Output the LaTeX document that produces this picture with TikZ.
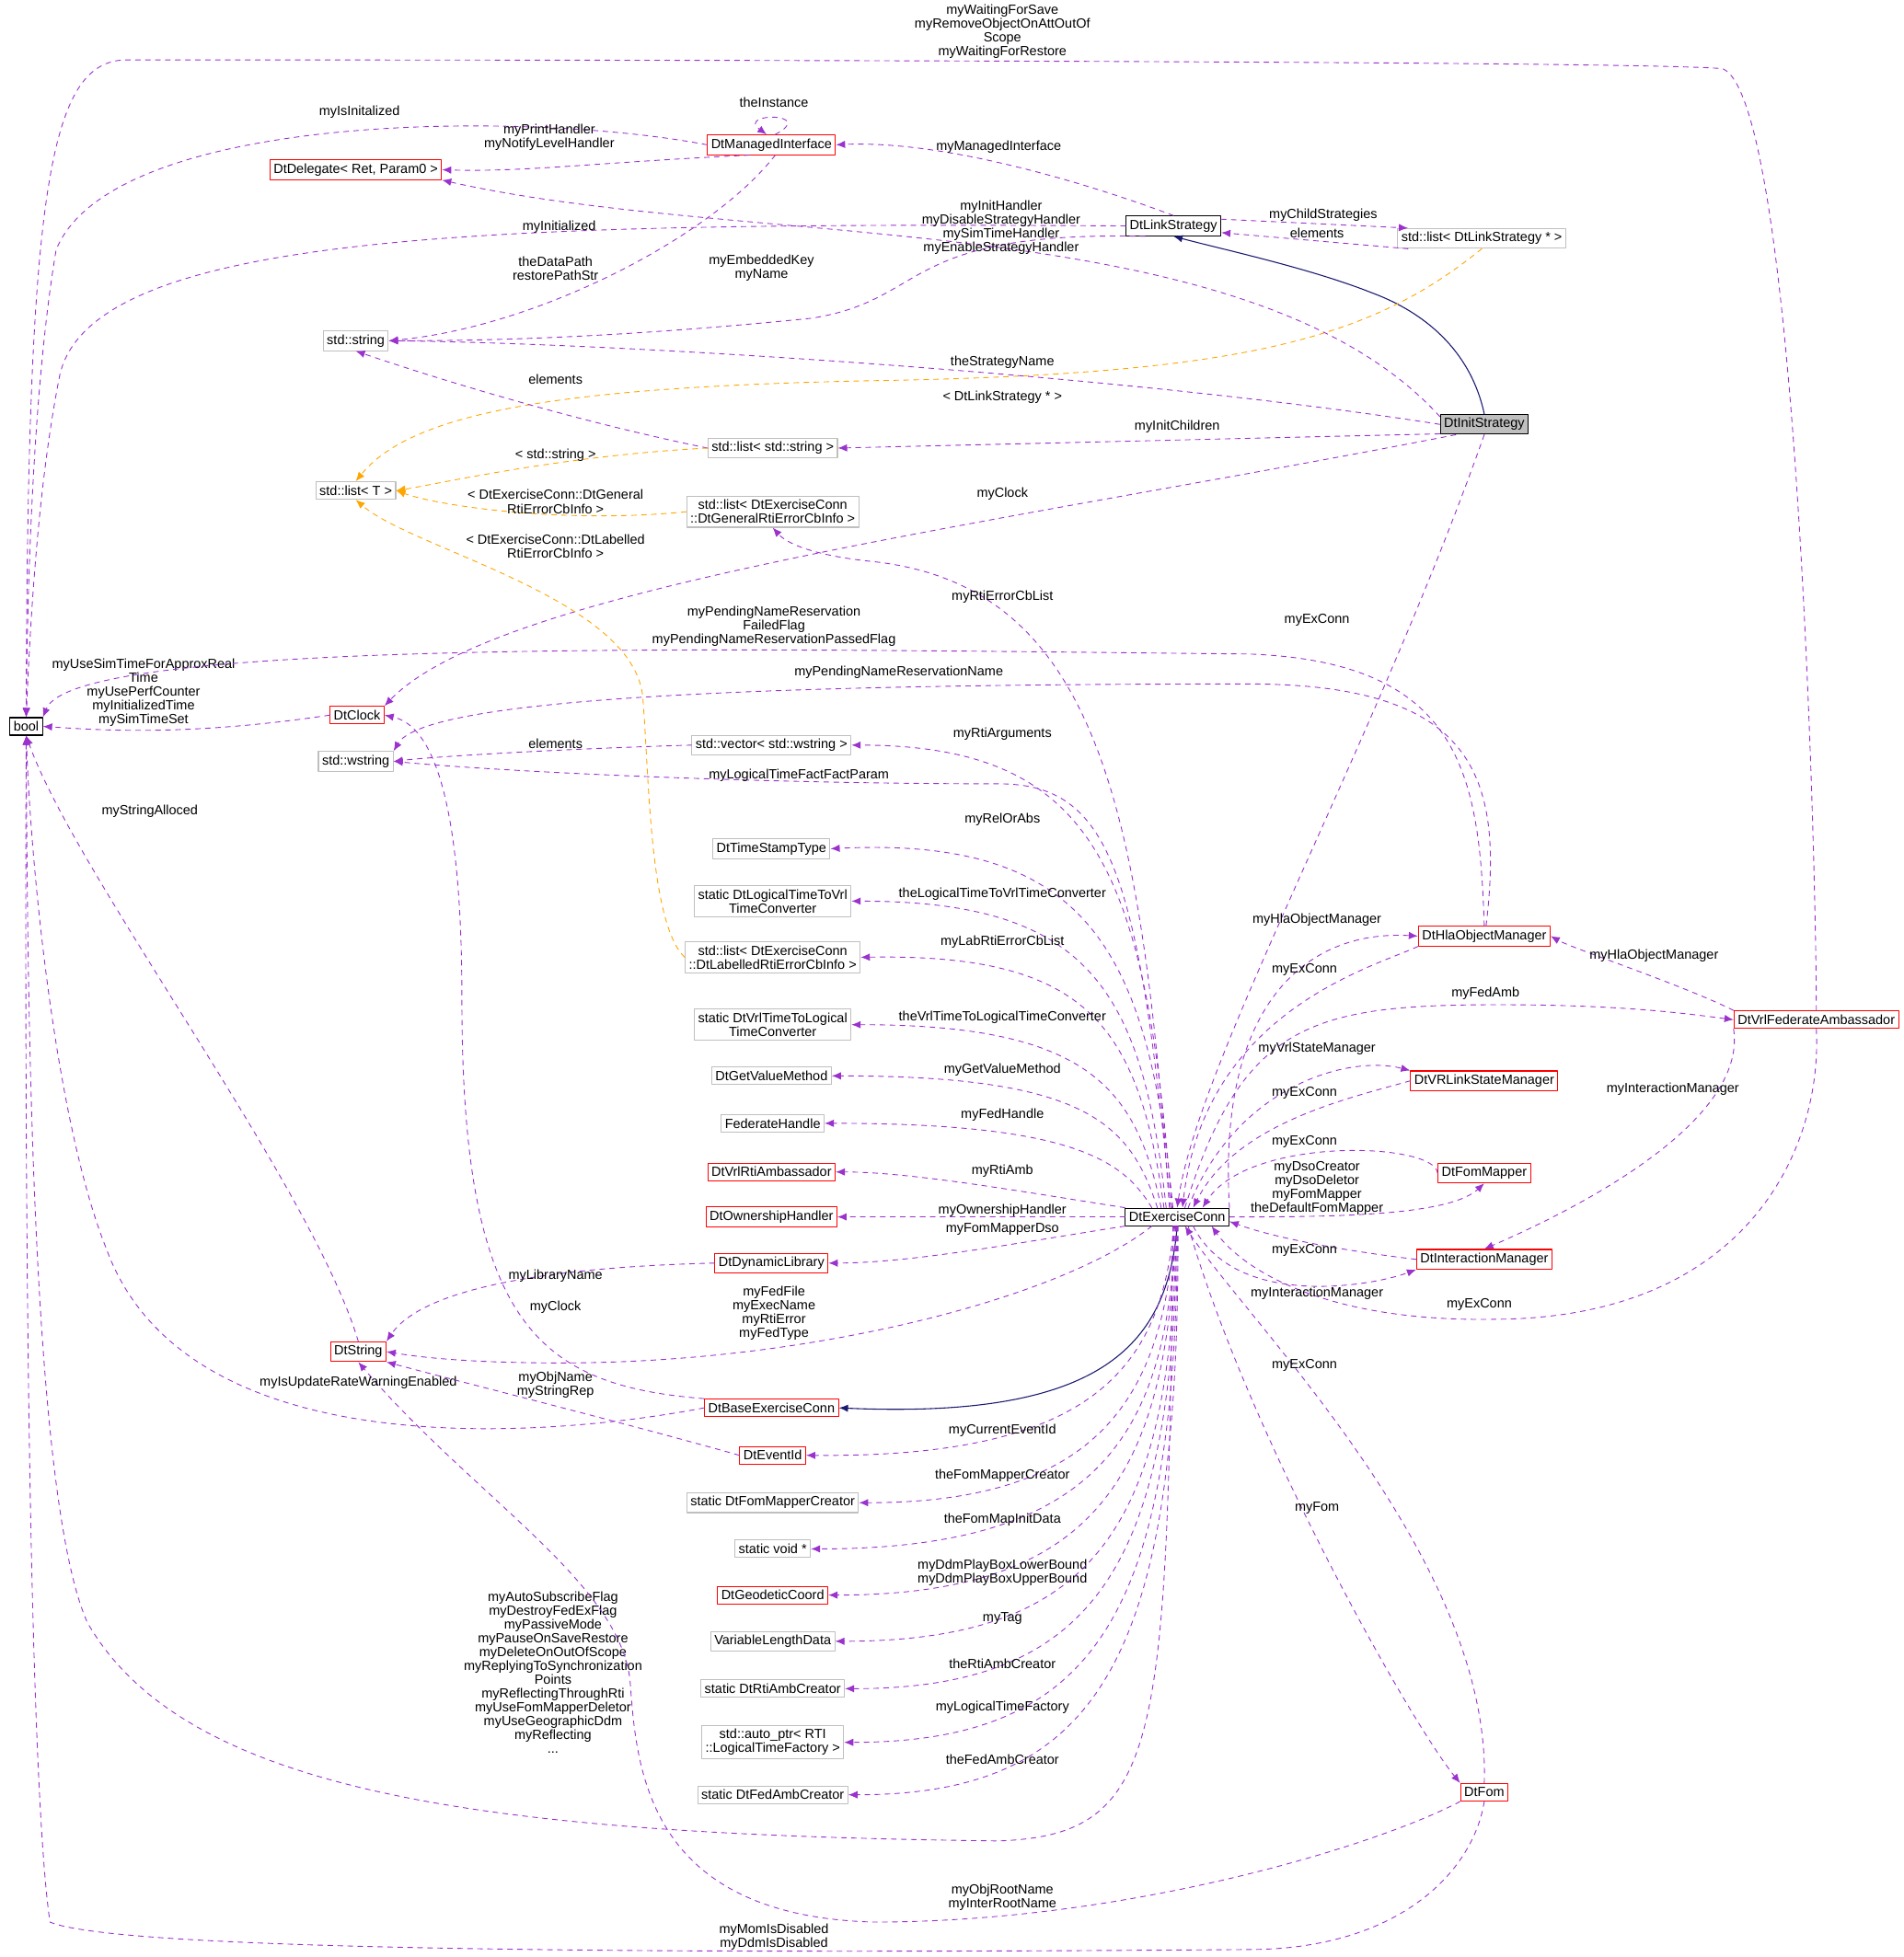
\documentclass[tikz,border=0pt]{standalone}
\usepackage{fontspec}
\setmainfont{Liberation Sans}
\usetikzlibrary{arrows.meta}
\definecolor{dpurple}{HTML}{9A32CD}
\definecolor{dorange}{HTML}{FFA500}
\definecolor{dblue}{HTML}{191970}
\definecolor{dgray}{HTML}{BFBFBF}
\tikzset{
  cls/.style={draw=red,fill=white,font=\fontsize{8}{8.3}\selectfont,inner sep=2.2pt,minimum height=10.5pt,align=center,line width=0.6pt},
  blk/.style={cls,draw=black},
  gry/.style={cls,draw=dgray},
  lbl/.style={font=\fontsize{8}{8.3}\selectfont,align=center,inner sep=0pt},
  dep/.style={draw=dpurple,dash pattern=on 3pt off 3pt,line width=0.5pt,-{Latex[length=5.5pt,width=4.5pt]}},
  tpl/.style={dep,draw=dorange},
  inh/.style={draw=dblue,line width=0.6pt,-{Latex[length=5.5pt,width=4.5pt]}},
  dep/.append style={-{Latex[length=5.5pt,width=4.5pt,fill=dpurple]}},
  tpl/.append style={-{Latex[length=5.5pt,width=4.5pt,fill=dorange]}},
}
\begin{document}
\begin{tikzpicture}[x=0.75pt,y=-0.75pt,line cap=round,line join=round]
\useasboundingbox (0,0) rectangle (1525,1568);
% classes
\node[blk] (bool) at (21,582) {bool};
\node[cls] (dg) at (285,136) {DtDelegate< Ret, Param0 >};
\node[cls] (mi) at (618,116) {DtManagedInterface};
\node[gry] (str) at (285,273) {std::string};
\node[blk] (ls) at (940,181) {DtLinkStrategy};
\node[gry] (ll) at (1187,191) {std::list< DtLinkStrategy * >};
\node[blk,fill=dgray] (is) at (1189,340) {DtInitStrategy};
\node[gry] (lls) at (619,359) {std::list< std::string >};
\node[gry] (lt) at (285,393) {std::list< T >};
\node[gry] (lg) at (619,410) {std::list< DtExerciseConn\\::DtGeneralRtiErrorCbInfo >};
\node[cls] (dc) at (286,573) {DtClock};
\node[gry] (ws) at (285,610) {std::wstring};
\node[gry] (vec) at (618,597) {std::vector< std::wstring >};
\node[gry] (ts) at (618,680) {DtTimeStampType};
\node[gry] (l2v) at (619,722) {static DtLogicalTimeToVrl\\TimeConverter};
\node[gry] (lb) at (619,767) {std::list< DtExerciseConn\\::DtLabelledRtiErrorCbInfo >};
\node[gry] (v2l) at (619,821) {static DtVrlTimeToLogical\\TimeConverter};
\node[gry] (gv) at (618,862) {DtGetValueMethod};
\node[gry] (fh) at (619,900) {FederateHandle};
\node[cls] (vra) at (618,939) {DtVrlRtiAmbassador};
\node[cls] (oh) at (618,975) {DtOwnershipHandler};
\node[cls] (dl) at (618,1012) {DtDynamicLibrary};
\node[cls] (ds) at (287,1083) {DtString};
\node[cls] (bec) at (618,1128) {DtBaseExerciseConn};
\node[cls] (ev) at (619,1166) {DtEventId};
\node[gry] (fmc) at (619,1204) {static DtFomMapperCreator};
\node[gry] (sv) at (619,1241) {static void *};
\node[cls] (gc) at (619,1278) {DtGeodeticCoord};
\node[gry] (vl) at (619,1315) {VariableLengthData};
\node[gry] (rac) at (619,1353) {static DtRtiAmbCreator};
\node[gry] (ap) at (619,1396) {std::auto\_ptr< RTI\\::LogicalTimeFactory >};
\node[gry] (fac) at (619,1438) {static DtFedAmbCreator};
\node[blk] (ec) at (943,975) {DtExerciseConn};
\node[cls] (hla) at (1189,750) {DtHlaObjectManager};
\node[cls] (vfa) at (1455,817) {DtVrlFederateAmbassador};
\node[cls] (vsm) at (1189,866) {DtVRLinkStateManager};
\node[cls] (fm) at (1189,940) {DtFomMapper};
\node[cls] (im) at (1189,1009) {DtInteractionManager};
\node[cls] (fom) at (1189,1436) {DtFom};
% top part
\draw[dep] (mi.west) .. controls (420,88) and (90,90) .. (45,200) .. controls (28,300) and (22,450) .. (bool.north);
\node[lbl] (t1) at (288,90) {myIsInitalized};
\draw[dep] (mi.205) .. controls (480,130) and (420,138) .. (dg.east);
\node[lbl] (t2) at (440,110) {myPrintHandler\\myNotifyLevelHandler};
\draw[dep] (mi.70) .. controls (655,90) and (590,90) .. (mi.115);
\node[lbl] (t3) at (620,82) {theInstance};
\draw[dep] (mi.290) .. controls (570,190) and (430,262) .. (str.east);
\node[lbl] (t4) at (445,215) {theDataPath\\restorePathStr};
\draw[dep] (ls.north) .. controls (880,150) and (760,112) .. (mi.east);
\node[lbl] (t5) at (800,118) {myManagedInterface};
\draw[dep] (ls.west) .. controls (400,178) and (75,185) .. (48,300) .. controls (32,380) and (25,480) .. (bool.north);
\node[lbl] (t6) at (448,182) {myInitialized};
\draw[dep] (ls.200) .. controls (720,185) and (745,240) .. (650,255) .. controls (500,270) and (400,273) .. (str.east);
\node[lbl] (t7) at (610,215) {myEmbeddedKey\\myName};
\draw[dep] (ls.8) -- (ll.172);
\node[lbl] (t8) at (1060,172) {myChildStrategies};
\draw[dep] (ll.188) -- (ls.352);
\node[lbl] (t9) at (1055,187) {elements};
\draw[inh] (is.north) .. controls (1178,280) and (1140,250) .. (1100,235) .. controls (1050,215) and (980,200) .. (ls.south);
\draw[tpl] (ll.south) .. controls (1100,270) and (1000,300) .. (700,305) .. controls (450,310) and (330,330) .. (lt.north);
\node[lbl] (t10) at (803,318) {< DtLinkStrategy * >};
\draw[dep] (is.170) .. controls (1000,165) and (600,200) .. (dg.south east);
\node[lbl] (t11) at (802,182) {myInitHandler\\myDisableStrategyHandler\\mySimTimeHandler\\myEnableStrategyHandler};
\draw[dep] (is.west) .. controls (900,300) and (500,275) .. (str.east);
\node[lbl] (t12) at (803,290) {theStrategyName};
\draw[dep] (is.192) -- (lls.east);
\node[lbl] (t13) at (943,342) {myInitChildren};
\draw[dep] (is.200) .. controls (800,420) and (400,470) .. (dc.north east);
\node[lbl] (t14) at (803,396) {myClock};
\draw[dep] (is.south) .. controls (1100,600) and (960,850) .. (ec.north);
\node[lbl] (t15) at (1055,497) {myExConn};
\draw[dep] (lls.west) .. controls (450,335) and (340,300) .. (str.south);
\node[lbl] (t16) at (445,304) {elements};
\draw[tpl] (lls.west) .. controls (450,365) and (350,388) .. (lt.east);
\node[lbl] (t17) at (445,365) {< std::string >};
\draw[tpl] (lg.west) .. controls (450,420) and (350,405) .. (lt.east);
\node[lbl] (t18) at (445,402) {< DtExerciseConn::DtGeneral\\RtiErrorCbInfo >};
\draw[tpl] (lb.west) .. controls (520,740) and (520,620) .. (515,560) .. controls (510,480) and (330,440) .. (lt.south);
\node[lbl] (t19) at (445,438) {< DtExerciseConn::DtLabelled\\RtiErrorCbInfo >};
\draw[dep] (dc.west) .. controls (150,590) and (80,585) .. (bool.east);
\node[lbl] (t20) at (115,555) {myUseSimTimeForApproxReal\\Time\\myUsePerfCounter\\myInitializedTime\\mySimTimeSet};
\draw[dep] (vec.west) .. controls (450,600) and (350,606) .. (ws.east);
\node[lbl] (t21) at (445,596) {elements};
\draw[dep] (hla.north) .. controls (1185,620) and (1170,530) .. (1000,524) .. controls (600,520) and (60,510) .. (bool.north east);
\node[lbl] (t22) at (620,502) {myPendingNameReservation\\FailedFlag\\myPendingNameReservationPassedFlag};
\draw[dep] (hla.80) .. controls (1205,620) and (1180,548) .. (1000,548) .. controls (600,548) and (340,560) .. (ws.north east);
\node[lbl] (t23) at (720,539) {myPendingNameReservationName};
\draw[dep] (vfa.north) .. controls (1455,700) and (1440,80) .. (1380,55) .. controls (1300,48) and (300,48) .. (100,48) .. controls (40,50) and (22,150) .. (bool.north);
\node[lbl] (t24) at (803,25) {myWaitingForSave\\myRemoveObjectOnAttOutOf\\Scope\\myWaitingForRestore};
% DtExerciseConn fan to the left
\draw[dep] (ec.130) .. controls (915,650) and (880,470) .. (700,450) .. controls (650,445) and (630,435) .. (lg.south);
\node[lbl] (u1) at (803,478) {myRtiErrorCbList};
\draw[dep] (ec.120) .. controls (918,700) and (880,597) .. (vec.east);
\node[lbl] (u2) at (803,588) {myRtiArguments};
\draw[dep] (ec.125) .. controls (912,700) and (890,628) .. (800,628) .. controls (600,628) and (400,618) .. (ws.east);
\node[lbl] (u3) at (640,621) {myLogicalTimeFactFactParam};
\draw[dep] (ec.115) .. controls (920,760) and (870,670) .. (ts.east);
\node[lbl] (u4) at (803,657) {myRelOrAbs};
\draw[dep] (ec.140) .. controls (915,790) and (870,722) .. (l2v.east);
\node[lbl] (u5) at (803,716) {theLogicalTimeToVrlTimeConverter};
\draw[dep] (ec.145) .. controls (912,820) and (870,764) .. (lb.east);
\node[lbl] (u6) at (803,755) {myLabRtiErrorCbList};
\draw[dep] (ec.150) .. controls (910,870) and (870,821) .. (v2l.east);
\node[lbl] (u7) at (803,815) {theVrlTimeToLogicalTimeConverter};
\draw[dep] (ec.155) .. controls (905,900) and (870,862) .. (gv.east);
\node[lbl] (u8) at (803,857) {myGetValueMethod};
\draw[dep] (ec.160) .. controls (900,930) and (860,900) .. (fh.east);
\node[lbl] (u9) at (803,893) {myFedHandle};
\draw[dep] (ec.170) .. controls (820,955) and (730,939) .. (vra.east);
\node[lbl] (u10) at (803,938) {myRtiAmb};
\draw[dep] (ec.west) -- (oh.east);
\node[lbl] (u11) at (803,970) {myOwnershipHandler};
\draw[dep] (ec.190) .. controls (820,995) and (730,1012) .. (dl.east);
\node[lbl] (u12) at (803,985) {myFomMapperDso};
\draw[dep] (ec.200) .. controls (850,1040) and (650,1092) .. (450,1092) .. controls (380,1092) and (340,1088) .. (ds.east);
\node[lbl] (u13) at (620,1052) {myFedFile\\myExecName\\myRtiError\\myFedType};
\draw[inh] (ec.south) .. controls (935,1080) and (880,1137) .. (bec.east);
\draw[dep] (ec.250) .. controls (930,1100) and (870,1168) .. (ev.east);
\node[lbl] (u14) at (803,1146) {myCurrentEventId};
\draw[dep] (ec.255) .. controls (932,1120) and (880,1204) .. (fmc.east);
\node[lbl] (u15) at (803,1182) {theFomMapperCreator};
\draw[dep] (ec.260) .. controls (935,1150) and (880,1241) .. (sv.east);
\node[lbl] (u16) at (803,1218) {theFomMapInitData};
\draw[dep] (ec.262) .. controls (935,1180) and (880,1278) .. (gc.east);
\node[lbl] (u17) at (803,1260) {myDdmPlayBoxLowerBound\\myDdmPlayBoxUpperBound};
\draw[dep] (ec.265) .. controls (938,1220) and (880,1315) .. (vl.east);
\node[lbl] (u18) at (803,1297) {myTag};
\draw[dep] (ec.268) .. controls (940,1250) and (880,1353) .. (rac.east);
\node[lbl] (u19) at (803,1333) {theRtiAmbCreator};
\draw[dep] (ec.272) .. controls (942,1290) and (880,1396) .. (ap.east);
\node[lbl] (u20) at (803,1368) {myLogicalTimeFactory};
\draw[dep] (ec.275) .. controls (945,1330) and (880,1438) .. (fac.east);
\node[lbl] (u21) at (803,1410) {theFedAmbCreator};
\draw[dep] (ec.245) .. controls (935,1400) and (930,1470) .. (800,1475) .. controls (400,1470) and (150,1440) .. (70,1300) .. controls (25,1200) and (22,800) .. (bool.south);
\node[lbl] (u22) at (443,1340) {myAutoSubscribeFlag\\myDestroyFedExFlag\\myPassiveMode\\myPauseOnSaveRestore\\myDeleteOnOutOfScope\\myReplyingToSynchronization\\Points\\myReflectingThroughRti\\myUseFomMapperDeletor\\myUseGeographicDdm\\myReflecting\\...};
% DtExerciseConn to the right
\draw[dep] (ec.north east) .. controls (975,800) and (1050,745) .. (hla.west);
\node[lbl] (v1) at (1055,737) {myHlaObjectManager};
\draw[dep] (hla.south west) .. controls (1100,775) and (965,810) .. (ec.60);
\node[lbl] (v2) at (1045,777) {myExConn};
\draw[dep] (ec.50) .. controls (995,820) and (1050,805) .. (1200,805) .. controls (1300,805) and (1350,812) .. (vfa.west);
\node[lbl] (v3) at (1190,796) {myFedAmb};
\draw[dep] (vfa.north west) .. controls (1350,790) and (1260,760) .. (hla.east);
\node[lbl] (v4) at (1325,766) {myHlaObjectManager};
\draw[dep] (vfa.south west) .. controls (1400,900) and (1260,970) .. (im.north);
\node[lbl] (v5) at (1340,873) {myInteractionManager};
\draw[dep] (vfa.south) .. controls (1460,920) and (1400,1055) .. (1200,1057) .. controls (1050,1060) and (990,1010) .. (ec.345);
\node[lbl] (v6) at (1185,1045) {myExConn};
\draw[dep] (ec.40) .. controls (990,870) and (1080,845) .. (vsm.north west);
\node[lbl] (v7) at (1055,840) {myVrlStateManager};
\draw[dep] (vsm.west) .. controls (1080,880) and (990,900) .. (ec.30);
\node[lbl] (v8) at (1045,876) {myExConn};
\draw[dep] (fm.west) .. controls (1150,915) and (1000,910) .. (ec.20);
\node[lbl] (v9) at (1045,915) {myExConn};
\draw[dep] (ec.east) .. controls (1060,975) and (1160,975) .. (fm.south);
\node[lbl] (v10) at (1055,952) {myDsoCreator\\myDsoDeletor\\myFomMapper\\theDefaultFomMapper};
\draw[dep] (im.west) .. controls (1100,1005) and (1030,995) .. (ec.355);
\node[lbl] (v11) at (1045,1002) {myExConn};
\draw[dep] (ec.330) .. controls (990,1050) and (1100,1030) .. (im.south west);
\node[lbl] (v12) at (1055,1036) {myInteractionManager};
\draw[dep] (ec.320) .. controls (1000,1150) and (1130,1380) .. (fom.north west);
\node[lbl] (v13) at (1055,1208) {myFom};
\draw[dep] (fom.north) .. controls (1195,1250) and (1000,1060) .. (ec.310);
\node[lbl] (v14) at (1045,1094) {myExConn};
\draw[dep] (fom.south west) .. controls (1100,1480) and (900,1540) .. (700,1540) .. controls (520,1535) and (510,1420) .. (505,1350) .. controls (500,1270) and (380,1200) .. (ds.south);
\node[lbl] (v15) at (803,1520) {myObjRootName\\myInterRootName};
\draw[dep] (fom.south) .. controls (1180,1500) and (1120,1562) .. (1000,1562) .. controls (600,1565) and (100,1565) .. (40,1540) .. controls (20,1400) and (20,800) .. (bool.south);
\node[lbl] (v16) at (620,1552) {myMomIsDisabled\\myDdmIsDisabled};
% lower left
\draw[dep] (dl.west) .. controls (450,1015) and (340,1030) .. (ds.north east);
\node[lbl] (w1) at (445,1022) {myLibraryName};
\draw[dep] (bec.north west) .. controls (430,1110) and (370,1060) .. (370,800) .. controls (370,620) and (340,580) .. (dc.east);
\node[lbl] (w2) at (445,1047) {myClock};
\draw[dep] (bec.west) .. controls (450,1150) and (150,1180) .. (85,1000) .. controls (45,900) and (25,700) .. (bool.south);
\node[lbl] (w3) at (287,1108) {myIsUpdateRateWarningEnabled};
\draw[dep] (ev.west) .. controls (500,1140) and (380,1110) .. (ds.south east);
\node[lbl] (w4) at (445,1110) {myObjName\\myStringRep};
\draw[dep] (ds.north) .. controls (250,950) and (60,700) .. (bool.south);
\node[lbl] (w5) at (120,650) {myStringAlloced};
\end{tikzpicture}
\end{document}
